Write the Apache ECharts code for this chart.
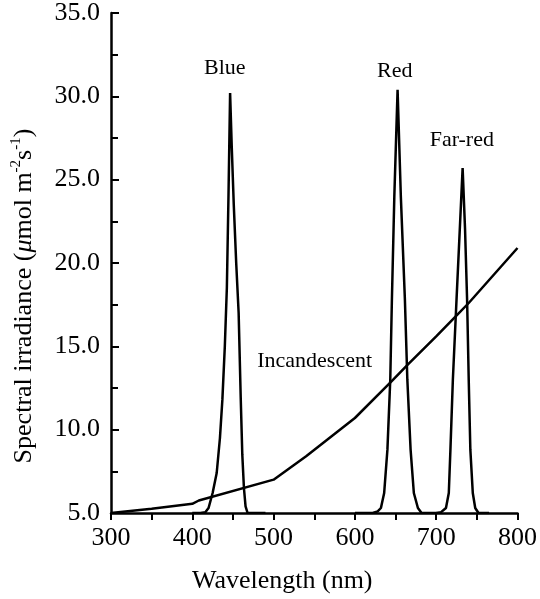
<!DOCTYPE html>
<html>
<head>
<meta charset="utf-8">
<script src="https://cdn.jsdelivr.net/npm/echarts@6/dist/echarts.min.js"></script>
<style>
  html, body { margin: 0; padding: 0; background: #fff; }
  #chart { width: 540px; height: 599px; }
</style>
</head>
<body>
<div id="chart"></div>
<script>
// wavelength (nm), irradiance pairs
var blue = [[400, 5.0], [410, 5.0], [416, 5.05], [420, 5.3], [425, 6.2], [430, 7.4], [434, 9.5], [437, 11.8],
  [440, 15.0], [442.5, 18.5], [444.5, 24.0], [446.5, 30.2], [448.5, 27.0], [451, 23.5], [454, 20.0],
  [457, 17.0], [459.5, 12.0], [461.5, 8.5], [463.5, 6.5], [465.5, 5.4], [468, 5.0], [490, 5.0]]
var red = [[600, 5.0], [622, 5.0], [628, 5.1], [632, 5.3], [636, 6.2], [640, 8.8], [643.5, 13.0], [645.5, 17.8],
  [648.5, 24.0], [652.5, 30.4], [656.5, 24.0], [661.5, 17.8], [664.5, 13.0], [668.5, 8.8], [672.5, 6.2],
  [677.5, 5.3], [682, 5.0], [688, 5.0], [690, 5.1], [692, 5.0], [700, 5.0]]
var farRed = [[700, 5.0], [706, 5.05], [712, 5.3], [715.5, 6.2], [717.5, 8.8], [720.5, 13.0], [725, 17.8],
  [729, 22.0], [732.5, 25.7], [735.5, 22.0], [738, 17.8], [740, 13.0], [742, 8.8], [745, 6.2], [748, 5.3],
  [752, 5.0], [765, 5.0]]
var incandescent = [[300, 5.0], [350, 5.25], [400, 5.55], [408, 5.75], [500, 7.0], [540, 8.4],
  [600, 10.7], [645, 12.9], [665, 13.9], [700, 15.6], [724, 16.8], [740, 17.6], [800, 20.9]]

// text labels: [wavelength, irradiance, text]
var curveLabels = [[440, 31.7, 'Blue'], [649, 31.5, 'Red'], [731.5, 27.35, 'Far-red'], [550.5, 14.1, 'Incandescent']]

var font = 'Liberation Serif, Times New Roman, serif'

var chart = echarts.init(document.getElementById('chart'))

function lineSeries(data, withLabels) {
  var s = {
    type: 'line',
    data: data,
    symbol: 'none',
    smooth: false,
    silent: true,
    lineStyle: { color: '#000', width: 2.5 }
  }
  if (withLabels) {
    s.markPoint = {
      symbol: 'circle',
      symbolSize: 0,
      silent: true,
      label: {
        show: true,
        position: 'inside',
        color: '#000',
        fontFamily: font,
        fontSize: 22,
        formatter: function (p) { return p.name }
      },
      data: curveLabels.map(function (d) { return { name: d[2], coord: [d[0], d[1]] } })
    }
  }
  return s
}

chart.setOption({
  animation: false,
  backgroundColor: '#fff',
  grid: { left: 111, right: 18, top: 12, bottom: 85 },
  xAxis: {
    type: 'value',
    min: 300,
    max: 800,
    interval: 100,
    name: 'Wavelength (nm)',
    nameLocation: 'middle',
    nameGap: 55,
    nameTextStyle: { color: '#000', fontFamily: font, fontSize: 26, padding: [0, 64, 0, 0] },
    axisLine: { lineStyle: { color: '#000', width: 2.5 } },
    axisTick: { show: true, length: 7, lineStyle: { color: '#000', width: 2 } },
    minorTick: { show: true, splitNumber: 2, length: 7, lineStyle: { color: '#000', width: 2 } },
    axisLabel: { color: '#000', fontFamily: font, fontSize: 26, margin: 12 },
    splitLine: { show: false }
  },
  yAxis: {
    type: 'value',
    min: 5,
    max: 35,
    interval: 5,
    name: '{t|Spectral irradiance (}{mu|μ}{t|mol m}{sup|-2}{t|s}{sup|-1}{t|)}',
    nameLocation: 'middle',
    nameRotate: 90,
    nameGap: 72,
    nameTextStyle: {
      color: '#000',
      fontFamily: font,
      fontSize: 26,
      padding: [0, 66, 0, 0],
      rich: {
        t: { fontFamily: font, fontSize: 26, color: '#000', lineHeight: 30, verticalAlign: 'middle' },
        mu: { fontFamily: font, fontSize: 26, color: '#000', fontStyle: 'italic', lineHeight: 30, verticalAlign: 'middle' },
        sup: { fontFamily: font, fontSize: 15, color: '#000', lineHeight: 30, verticalAlign: 'top' }
      }
    },
    axisLine: { show: true, lineStyle: { color: '#000', width: 2.5 } },
    axisTick: { show: true, inside: true, length: 8, lineStyle: { color: '#000', width: 2 } },
    minorTick: { show: true, splitNumber: 2, length: 7, lineStyle: { color: '#000', width: 2 } },
    axisLabel: {
      color: '#000', fontFamily: font, fontSize: 26, margin: 11, padding: [6, 0, 0, 0],
      formatter: function (v) { return v.toFixed(1) }
    },
    splitLine: { show: false }
  },
  series: [
    lineSeries(incandescent, true),
    lineSeries(blue),
    lineSeries(red),
    lineSeries(farRed)
  ]
})
</script>
</body>
</html>
